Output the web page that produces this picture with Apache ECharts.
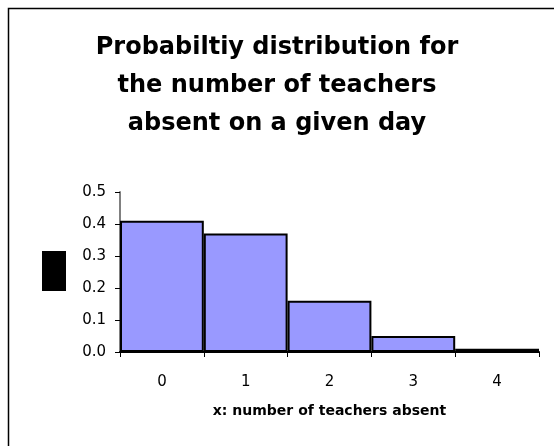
<!DOCTYPE html>
<html>
<head>
<meta charset="utf-8">
<script src="https://cdn.jsdelivr.net/npm/echarts@6/dist/echarts.min.js"></script>
<style>
html,body{margin:0;padding:0;background:#fff;}
#chart{width:554px;height:446px;}
</style>
</head>
<body>
<div id="chart"></div>
<script>
var titleText = "Probabiltiy distribution for\nthe number of teachers\nabsent on a given day";
var xAxisName = "x: number of teachers absent";
var categories = ["0", "1", "2", "3", "4"];
var probabilities = [0.41, 0.37, 0.16, 0.05, 0.01];
var yTicks = [0, 0.1, 0.2, 0.3, 0.4, 0.5];

var FONT = "DejaVu Sans";
var chart = echarts.init(document.getElementById('chart'), null, {renderer: 'canvas'});
chart.setOption({
  backgroundColor: '#ffffff',
  animation: false,
  title: {
    text: titleText,
    left: 'center',
    top: 24,
    textStyle: {fontFamily: FONT, fontWeight: 'bold', fontSize: 24, lineHeight: 38, color: '#000'}
  },
  graphic: [
    {type: 'rect', shape: {x: 8.5, y: 8.5, width: 560, height: 460}, style: {fill: null, stroke: '#000', lineWidth: 1.5}, silent: true},
    {type: 'rect', shape: {x: 42, y: 251, width: 24, height: 40}, style: {fill: '#000'}, silent: true}
  ],
  grid: {left: 120, right: 15, top: 192, bottom: 94},
  xAxis: {
    type: 'category',
    data: categories,
    boundaryGap: true,
    name: xAxisName,
    nameLocation: 'middle',
    nameGap: 52,
    nameTextStyle: {fontFamily: FONT, fontWeight: 'bold', fontSize: 14, color: '#000'},
    axisLine: {lineStyle: {color: '#000', width: 2}},
    axisTick: {show: true, length: 5, lineStyle: {color: '#000', width: 1}},
    axisLabel: {fontFamily: FONT, fontSize: 15, color: '#000', margin: 23}
  },
  yAxis: {
    type: 'value',
    min: yTicks[0],
    max: yTicks[yTicks.length - 1],
    interval: 0.1,
    splitLine: {show: false},
    axisLine: {show: true, lineStyle: {color: '#808080', width: 2}},
    axisTick: {show: true, length: 5, lineStyle: {color: '#000', width: 1}},
    axisLabel: {fontFamily: FONT, fontSize: 15, color: '#000', margin: 14,
      formatter: function (v) { return v.toFixed(1); }}
  },
  series: [{
    type: 'bar',
    data: probabilities,
    barCategoryGap: 0,
    itemStyle: {color: '#9999FF', borderColor: '#000', borderWidth: 2}
  }]
});
</script>
</body>
</html>
